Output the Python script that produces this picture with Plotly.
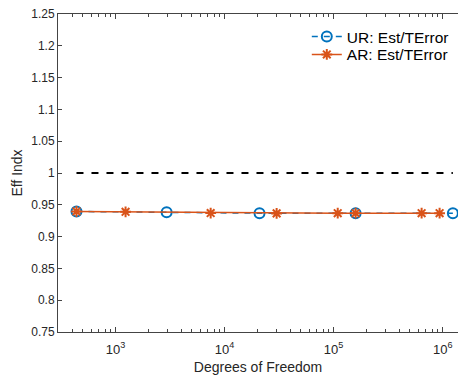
import plotly.graph_objects as go

# Data
ur_dof = [438, 2940, 20900, 159000, 1240000]
ur_eff = [0.9395, 0.9382, 0.9368, 0.9368, 0.9368]

ar_dof = [438, 1235, 7450, 30000, 109000, 159000, 641000, 937000]
ar_eff = [0.9395, 0.9390, 0.9370, 0.9365, 0.9368, 0.9368, 0.9368, 0.9368]

ref_x = [438, 1240000]
ref_y = [1.0, 1.0]

ytick_vals = [0.75, 0.8, 0.85, 0.9, 0.95, 1.0, 1.05, 1.1, 1.15, 1.2, 1.25]
ytick_text = ["0.75", "0.8", "0.85", "0.9", "0.95", "1", "1.05", "1.1", "1.15", "1.2", "1.25"]
xtick_vals = [1e3, 1e4, 1e5, 1e6]
xtick_text = ["10<sup>3</sup>", "10<sup>4</sup>", "10<sup>5</sup>", "10<sup>6</sup>"]

BLUE = "#0072BD"
ORANGE = "#D95319"
FONT = "Liberation Sans, Arial, sans-serif"

fig = go.Figure()
fig.add_trace(go.Scatter(
    x=ur_dof, y=ur_eff, mode="lines+markers", name="UR: Est/TError", legend="legend",
    line=dict(color=BLUE, width=1.5, dash="6px,6px"),
    marker=dict(symbol="circle-open", size=10, color=BLUE, line=dict(width=2, color=BLUE)),
))
fig.add_trace(go.Scatter(
    x=ar_dof, y=ar_eff, mode="lines+markers", name="AR: Est/TError", legend="legend2",
    line=dict(color=ORANGE, width=1.6),
    marker=dict(symbol="asterisk-open", size=9, color=ORANGE, line=dict(width=2, color=ORANGE)),
))
fig.add_trace(go.Scatter(
    x=ref_x, y=ref_y, mode="lines", showlegend=False,
    line=dict(color="black", width=2, dash="7px,8px"),
))

leg_common = dict(xanchor="left", yanchor="top", bgcolor="rgba(0,0,0,0)",
                  borderwidth=0, itemwidth=30, font=dict(size=15.5, color="black"))

fig.update_layout(
    width=458, height=376,
    margin=dict(l=58, r=0, t=14, b=44),
    paper_bgcolor="white", plot_bgcolor="white",
    font=dict(family=FONT, size=11, color="#262626"),
    showlegend=True,
    legend=dict(x=0.622, y=0.981, **leg_common),
    legend2=dict(x=0.622, y=0.925, **leg_common),
    xaxis=dict(
        type="log", range=[2.472, 6.1405],
        tickvals=xtick_vals, ticktext=xtick_text,
        ticks="inside", ticklen=5, tickcolor="#444",
        showline=True, linecolor="#444", linewidth=1, mirror="ticks",
        showgrid=False, zeroline=False,
        minor=dict(ticks="inside", ticklen=3, tickcolor="#444", dtick="D1", showgrid=False),
        tickfont=dict(size=13), ticklabelstandoff=5,
        title=dict(text="Degrees of Freedom", font=dict(size=14), standoff=6),
    ),
    yaxis=dict(
        range=[0.75, 1.25],
        tickvals=ytick_vals, ticktext=ytick_text,
        ticks="inside", ticklen=4, tickcolor="#444",
        showline=True, linecolor="#444", linewidth=1, mirror=False,
        showgrid=False, zeroline=False,
        tickfont=dict(size=12),
        title=dict(text="Eff Indx", font=dict(size=14), standoff=5),
    ),
)

fig.write_html("out.html")
